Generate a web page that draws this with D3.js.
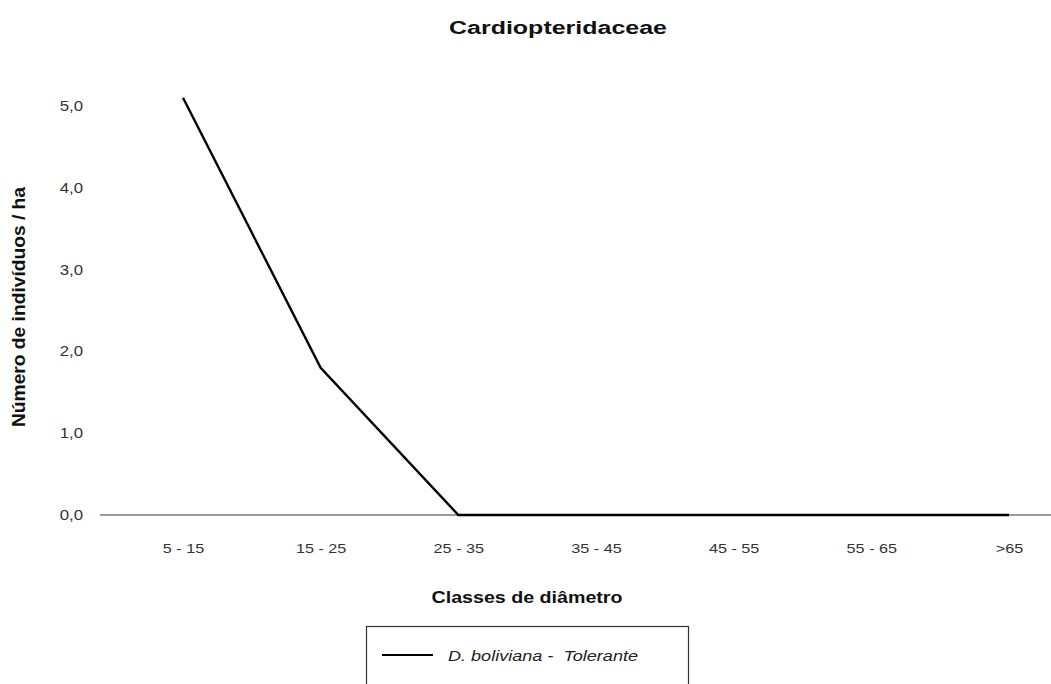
<!DOCTYPE html>
<html>
<head>
<meta charset="utf-8">
<script src="https://cdn.jsdelivr.net/npm/d3@7"></script>
<style>
  body { margin: 0; background: #fff; }
  text { font-family: "Liberation Sans", Arial, sans-serif; }
</style>
</head>
<body>
<svg></svg>
<script>
// classes de diametro and densities
let classes = ['5 - 15', '15 - 25', '25 - 35', '35 - 45', '45 - 55', '55 - 65', '>65'];
let individuos = [5.1, 1.8, 0, 0, 0, 0, 0];
let yTicks = [0, 1, 2, 3, 4, 5];

let svgWidth = 1051,
    svgHeight = 684;

let svg = d3.select('svg')
            .attr('width', svgWidth)
            .attr('height', svgHeight);

let x = d3.scalePoint()
          .domain(classes)
          .range([183, 1009]);

let y = d3.scaleLinear()
          .domain([0, 5])
          .range([515, 106]);

// the original picture is a bit wider than its glyphs, stretch text a little
function stretch(sel, k) {
  sel.each(function () {
    let w = this.getComputedTextLength();
    d3.select(this)
      .attr('textLength', w * k)
      .attr('lengthAdjust', 'spacingAndGlyphs');
  });
}

// title
svg.append('text')
   .attr('x', 558)
   .attr('y', 34)
   .attr('text-anchor', 'middle')
   .attr('font-size', 18)
   .attr('font-weight', 'bold')
   .attr('fill', '#111')
   .attr('textLength', 218)
   .attr('lengthAdjust', 'spacingAndGlyphs')
   .text('Cardiopteridaceae');

// y tick labels, no axis line
let yAxis = svg.append('g')
               .attr('transform', 'translate(83,0)')
               .call(d3.axisLeft(y)
                       .tickValues(yTicks)
                       .tickSize(0)
                       .tickPadding(0)
                       .tickFormat(d => d3.format('.1f')(d).replace('.', ',')));
yAxis.select('.domain').remove();
yAxis.selectAll('text')
     .attr('font-size', 14)
     .attr('fill', '#333')
     .attr('font-family', '"Liberation Sans", Arial, sans-serif')
     .call(stretch, 1.2);

// x axis: gray baseline and category labels
svg.append('line')
   .attr('x1', 100)
   .attr('x2', 1051)
   .attr('y1', y(0))
   .attr('y2', y(0))
   .attr('stroke', '#9a9a9a')
   .attr('stroke-width', 2);

let xAxis = svg.append('g')
               .attr('transform', 'translate(0,' + y(0) + ')')
               .call(d3.axisBottom(x).tickSize(0).tickPadding(28));
xAxis.select('.domain').remove();
xAxis.selectAll('text')
     .attr('font-size', 13.5)
     .attr('fill', '#333')
     .attr('font-family', '"Liberation Sans", Arial, sans-serif')
     .call(stretch, 1.2);

// axis titles
svg.append('text')
   .attr('x', 527)
   .attr('y', 603)
   .attr('text-anchor', 'middle')
   .attr('font-size', 17)
   .attr('font-weight', 'bold')
   .attr('fill', '#111')
   .attr('textLength', 191)
   .attr('lengthAdjust', 'spacingAndGlyphs')
   .text('Classes de diâmetro');

svg.append('text')
   .attr('transform', 'translate(25,307) rotate(-90)')
   .attr('text-anchor', 'middle')
   .attr('font-size', 18)
   .attr('font-weight', 'bold')
   .attr('fill', '#111')
   .attr('textLength', 240)
   .attr('lengthAdjust', 'spacingAndGlyphs')
   .text('Número de indivíduos / ha');

// the series
let line = d3.line()
             .x((d, i) => x(classes[i]))
             .y(d => y(d));

svg.append('path')
   .datum(individuos)
   .attr('d', line)
   .attr('fill', 'none')
   .attr('stroke', '#000')
   .attr('stroke-width', 2.4);

// legend
svg.append('rect')
   .attr('x', 366.5)
   .attr('y', 626.5)
   .attr('width', 322)
   .attr('height', 70)
   .attr('fill', 'none')
   .attr('stroke', '#333')
   .attr('stroke-width', 1.2);

svg.append('line')
   .attr('x1', 382)
   .attr('x2', 433)
   .attr('y1', 655)
   .attr('y2', 655)
   .attr('stroke', '#000')
   .attr('stroke-width', 2.2);

svg.append('text')
   .attr('x', 448)
   .attr('y', 661)
   .attr('font-size', 14.5)
   .attr('font-style', 'italic')
   .attr('fill', '#222')
   .attr('xml:space', 'preserve')
   .attr('textLength', 190)
   .attr('lengthAdjust', 'spacingAndGlyphs')
   .text('D. boliviana -  Tolerante');
</script>
</body>
</html>
